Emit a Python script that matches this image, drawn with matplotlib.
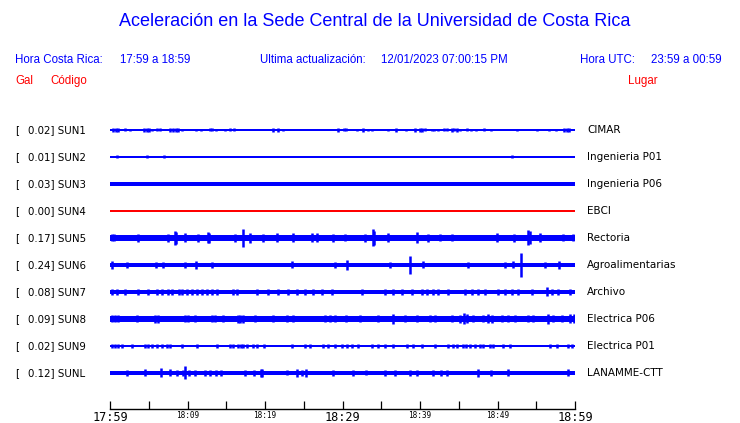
import matplotlib
matplotlib.use("Agg")
import matplotlib.pyplot as plt

# ---------------- data ----------------
codes = ["SUN1", "SUN2", "SUN3", "SUN4", "SUN5", "SUN6", "SUN7", "SUN8", "SUN9", "SUNL"]
peaks = ["0.02", "0.01", "0.03", "0.00", "0.17", "0.24", "0.08", "0.09", "0.02", "0.12"]
places = ["CIMAR", "Ingenieria P01", "Ingenieria P06", "EBCI", "Rectoria",
          "Agroalimentarias", "Archivo", "Electrica P06", "Electrica P01", "LANAMME-CTT"]
# base noise half-amplitude of every trace (display units)
base_amp = [0.6, 0.6, 2.3, 0.6, 3.0, 2.0, 2.0, 2.7, 0.7, 2.0]
trace_colors = ["blue", "blue", "blue", "red", "blue", "blue", "blue", "blue", "blue", "blue"]

# bursts: minutes after 17:59 and half-amplitude
sun1_t = [0.43, 0.73, 1.08, 1.94, 2.58, 4.43, 4.73, 5.03, 5.46, 6.11, 6.45, 7.78, 8.17, 8.47, 8.82,
          9.25, 11.10, 11.70, 12.95, 13.20, 13.72, 14.84, 15.48, 16.04, 21.07, 21.63, 22.36, 29.46,
          30.24, 30.45, 31.91, 32.60, 33.29, 33.81, 35.87, 36.86, 38.19, 39.35, 40.04, 40.30, 40.64,
          41.50, 41.81, 42.32, 43.10, 43.44, 44.13, 44.43, 44.77, 45.16, 46.11, 46.58, 47.18, 48.30,
          49.20, 52.56, 55.05, 56.69, 57.55, 58.62, 58.92, 59.23]
sun1_a = [1.8, 1.8, 1.8, 1.5, 1.3, 1.8, 1.8, 1.8, 1.3, 1.5, 1.5, 1.8, 1.8, 1.8, 1.8,
          1.3, 1.3, 1.3, 1.5, 1.5, 1.3, 1.3, 1.5, 1.5, 1.8, 1.8, 1.3, 1.8,
          1.5, 1.5, 1.3, 1.8, 1.3, 1.3, 1.3, 1.8, 1.3, 1.8, 1.8, 1.8, 1.5,
          1.3, 1.3, 1.3, 1.5, 1.5, 1.8, 1.5, 1.8, 1.3, 1.5, 1.3, 1.3, 1.5,
          1.3, 1.3, 1.3, 1.3, 1.3, 1.8, 1.8, 1.8]
sun2_t = [0.90, 4.77, 6.97, 51.87]
sun2_a = [1.5, 1.5, 1.5, 1.5]
sun3_t = []
sun3_a = []
sun4_t = []
sun4_a = []
sun5_t = [0.22, 0.56, 3.66, 7.48, 8.43, 8.56, 9.68, 11.40, 12.60, 12.82, 16.13, 17.20, 18.06, 19.78,
          21.59, 23.66, 26.02, 26.67, 28.82, 30.32, 32.90, 33.89, 34.11, 35.91, 39.57, 40.99, 42.58,
          44.09, 49.89, 52.17, 53.98, 54.15, 55.48, 58.49, 59.78]
sun5_a = [3.5, 3.5, 4.0, 4.0, 7.0, 6.0, 4.5, 4.0, 5.5, 5.0, 4.0, 9.0, 5.0, 4.0,
          4.5, 4.5, 4.5, 4.5, 4.0, 3.5, 4.0, 8.5, 7.0, 4.5, 5.5, 4.0, 3.5,
          3.5, 4.5, 4.0, 7.5, 6.5, 4.5, 3.5, 3.5]
sun6_t = [0.30, 2.15, 5.94, 6.80, 9.68, 11.05, 13.12, 23.44, 29.03, 30.54, 36.13, 38.71, 40.43,
          46.24, 50.97, 52.04, 53.03, 56.13, 57.94]
sun6_a = [4.0, 3.0, 2.8, 3.0, 3.0, 4.0, 2.8, 3.5, 3.0, 5.0, 3.0, 9.0, 3.5,
          2.8, 3.0, 3.5, 12.0, 2.8, 4.0]
sun7_t = [0.22, 0.86, 1.94, 3.66, 4.86, 6.02, 6.67, 7.53, 7.96, 8.90, 9.25, 9.89, 10.54, 11.18,
          11.83, 12.47, 13.12, 13.76, 15.91, 16.34, 18.92, 20.43, 21.72, 23.01, 24.09, 25.16, 26.24,
          27.31, 28.60, 32.47, 35.48, 36.56, 37.63, 38.92, 40.21, 40.86, 41.72, 42.36, 43.66, 45.81,
          46.67, 47.53, 48.39, 50.11, 50.97, 51.83, 52.69, 54.41, 56.34, 56.99, 57.85, 59.36]
sun7_a = [3.0] * 48 + [4.5, 3.0, 3.0, 3.0]
sun8_t = [0.22, 0.65, 1.08, 3.44, 5.81, 6.15, 9.68, 10.11, 10.97, 13.12, 13.55, 14.62, 16.47, 16.77,
          17.12, 18.71, 21.07, 22.80, 23.66, 27.74, 28.39, 29.03, 30.41, 32.26, 34.62, 36.56, 38.06,
          39.57, 41.29, 41.94, 44.09, 45.16, 45.72, 46.02, 46.88, 48.17, 48.82, 49.25, 50.54, 51.40,
          52.26, 53.98, 54.63, 56.56, 57.20, 58.28, 59.36, 59.91]
sun8_a = [3.5, 3.5, 3.5, 3.5, 4.0, 4.0, 3.5, 3.5, 3.5, 3.5, 3.5, 3.5, 4.0, 4.0,
          4.0, 3.5, 3.5, 3.5, 3.5, 3.5, 3.5, 3.5, 3.5, 3.5, 3.5, 5.0, 3.5,
          3.5, 3.5, 3.5, 3.5, 4.0, 5.5, 4.5, 3.5, 3.5, 4.5, 4.0, 3.5, 3.5,
          3.5, 3.5, 3.5, 5.0, 3.5, 3.5, 4.5, 4.5]
sun9_t = [0.22, 0.65, 1.08, 1.51, 2.88, 4.52, 4.86, 5.38, 6.02, 6.67, 7.31, 7.74, 9.25, 11.18,
          13.76, 15.48, 15.91, 16.56, 16.90, 17.20, 17.63, 18.49, 18.92, 19.91, 23.44, 25.16, 25.81,
          27.53, 28.17, 29.03, 29.89, 30.54, 31.18, 32.04, 33.76, 34.62, 35.48, 36.56, 38.28, 39.14,
          40.21, 41.94, 43.66, 44.30, 44.73, 45.59, 45.89, 46.45, 47.10, 47.74, 48.17, 49.03, 49.46,
          50.75, 51.61, 56.77, 57.63, 59.14, 59.57]
sun9_a = [1.6, 1.6, 1.6, 1.6, 1.6, 1.6, 1.6, 1.6, 1.6, 1.6, 1.6, 1.6, 1.6, 1.6,
          1.6, 1.6, 1.6, 2.0, 2.0, 2.0, 1.6, 1.6, 1.6, 2.0, 1.6, 1.6, 1.6,
          1.6, 1.6, 1.6, 1.6, 1.6, 1.6, 1.6, 1.6, 1.6, 1.6, 1.6, 1.6, 1.6,
          1.6, 1.6, 1.6, 1.6, 1.6, 2.0, 2.0, 1.6, 1.6, 1.6, 1.6, 2.0, 2.0,
          1.6, 1.6, 1.6, 1.6, 1.6, 1.6]
sunl_t = [2.24, 4.52, 6.62, 7.74, 8.60, 9.38, 9.72, 10.24, 10.97, 12.26, 12.90, 13.68, 14.32, 17.42,
          18.62, 19.48, 19.66, 22.88, 24.17, 24.82, 25.29, 28.77, 31.40, 33.03, 35.48, 36.77, 38.71,
          39.57, 41.72, 42.71, 43.44, 47.44, 49.16, 51.31, 59.14]
sunl_a = [3.0, 3.5, 4.5, 3.5, 2.8, 3.0, 6.5, 3.0, 3.0, 3.0, 3.0, 3.0, 3.0, 2.8,
          2.8, 4.0, 4.0, 2.5, 4.0, 3.0, 4.0, 3.0, 3.0, 2.5, 3.0, 3.0, 3.0,
          3.0, 3.0, 3.0, 3.0, 4.0, 3.0, 3.5, 3.5]
burst_t = [sun1_t, sun2_t, sun3_t, sun4_t, sun5_t, sun6_t, sun7_t, sun8_t, sun9_t, sunl_t]
burst_a = [sun1_a, sun2_a, sun3_a, sun4_a, sun5_a, sun6_a, sun7_a, sun8_a, sun9_a, sunl_a]

tick_minutes = [0, 10, 20, 30, 40, 50, 60]
tick_labels = ["17:59", "18:09", "18:19", "18:29", "18:39", "18:49", "18:59"]
tick_big = [True, False, False, True, False, False, True]

# ---------------- figure ----------------
W, H = 740, 423
fig = plt.figure(figsize=(W / 100, H / 100), dpi=100)
fig.patch.set_facecolor("white")

bg = fig.add_axes([0, 0, 1, 1])
bg.set_xlim(0, W)
bg.set_ylim(H, 0)
bg.axis("off")

BLUE = "#0000ff"
RED = "#ff0000"
hfont = "Liberation Sans"
hs = 8.3

bg.text(375, 21, "Aceleración en la Sede Central de la Universidad de Costa Rica",
        ha="center", va="center", fontsize=13, color=BLUE, family=hfont)
hy = 60
bg.text(15, hy, "Hora Costa Rica:", ha="left", va="center", fontsize=hs, color=BLUE, family=hfont)
bg.text(120, hy, "17:59 a 18:59", ha="left", va="center", fontsize=hs, color=BLUE, family=hfont)
bg.text(260, hy, "Ultima actualización:", ha="left", va="center", fontsize=hs, color=BLUE, family=hfont)
bg.text(381, hy, "12/01/2023 07:00:15 PM", ha="left", va="center", fontsize=hs, color=BLUE, family=hfont)
bg.text(580, hy, "Hora UTC:", ha="left", va="center", fontsize=hs, color=BLUE, family=hfont)
bg.text(651, hy, "23:59 a 00:59", ha="left", va="center", fontsize=hs, color=BLUE, family=hfont)
gy = 81
bg.text(15, gy, "Gal", ha="left", va="center", fontsize=hs, color=RED, family=hfont)
bg.text(50, gy, "Código", ha="left", va="center", fontsize=hs, color=RED, family=hfont)
bg.text(628, gy, "Lugar", ha="left", va="center", fontsize=hs, color=RED, family=hfont)

row0, drow = 130, 27
for i, (code, pk, place) in enumerate(zip(codes, peaks, places)):
    y = row0 + drow * i
    bg.text(15, y, "[", ha="left", va="center", fontsize=7.4, color="black", family="DejaVu Sans")
    bg.text(28, y, f"{pk}] {code}", ha="left", va="center", fontsize=7.4, color="black",
            family="DejaVu Sans")
    bg.text(587, y, place, ha="left", va="center", fontsize=7.5, color="black",
            family="DejaVu Sans")

# traces
x0, x1 = 110, 575
ax = fig.add_axes([x0 / W, 0, (x1 - x0) / W, 1])
ax.set_xlim(0, 60)
ax.set_ylim(H, 0)
ax.axis("off")
for i in range(len(codes)):
    y = row0 + drow * i
    c = trace_colors[i]
    b = base_amp[i]
    ax.fill_between([0, 60], y - b, y + b, color=c, lw=0)
    if burst_t[i]:
        t = burst_t[i]
        a = burst_a[i]
        ax.vlines(t, [y - v for v in a], [y + v for v in a], color=c, lw=1.8)

# time axis
yb = 409
tax = fig.add_axes([x0 / W, (H - yb) / H, (x1 - x0) / W, 0.0001])
tax.set_xlim(0, 60)
for s in ["left", "right", "top"]:
    tax.spines[s].set_visible(False)
tax.spines["bottom"].set_linewidth(1.0)
tax.set_yticks([])
tax.set_xticks(tick_minutes)
tax.set_xticklabels(tick_labels)
tax.set_xticks([5, 15, 25, 35, 45, 55], minor=True)
tax.tick_params(axis="x", which="both", direction="in", length=6, width=0.9, pad=1.5)
for lab, big in zip(tax.get_xticklabels(), tick_big):
    lab.set_family("DejaVu Sans Mono")
    lab.set_fontsize(8.6 if big else 5.6)

fig.savefig("out.png", dpi=100, facecolor="white")
